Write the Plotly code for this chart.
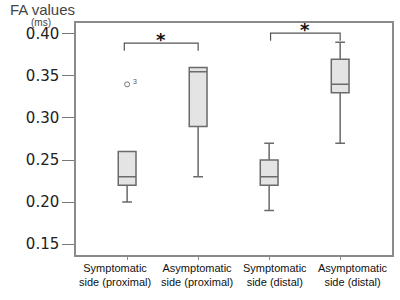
import plotly.graph_objects as go

categories = ["Symptomatic<br>side (proximal)", "Asymptomatic<br>side (proximal)",
              "Symptomatic<br>side (distal)", "Asymptomatic<br>side (distal)"]
label_pos = [-0.17, 0.99, 2.08, 3.18]
lower = [0.20, 0.23, 0.19, 0.27]
q1 = [0.22, 0.29, 0.22, 0.33]
median = [0.23, 0.355, 0.23, 0.34]
q3 = [0.26, 0.36, 0.25, 0.37]
upper = [0.26, 0.36, 0.27, 0.39]
outlier_x = [0]
outlier_y = [0.34]
outlier_label = ["3"]
y_ticks = [0.15, 0.20, 0.25, 0.30, 0.35, 0.40]

fig = go.Figure()
for i in range(len(categories)):
    fig.add_trace(go.Box(
        x=[i], q1=[q1[i]], median=[median[i]], q3=[q3[i]],
        lowerfence=[lower[i]], upperfence=[upper[i]],
        width=0.25, whiskerwidth=0.55,
        fillcolor="#e4e4e4", line=dict(color="#6a6a6a", width=1.5),
        showlegend=False, hoverinfo="skip", boxpoints=False,
    ))

fig.add_trace(go.Scatter(
    x=outlier_x, y=outlier_y, mode="markers",
    marker=dict(symbol="circle-open", size=5, color="#777", line=dict(width=1)),
    showlegend=False, hoverinfo="skip",
))
for xv, yv, t in zip(outlier_x, outlier_y, outlier_label):
    fig.add_annotation(x=xv, y=yv, text=t, showarrow=False, xshift=8, yshift=3,
                       font=dict(size=7, color="#555", family="Liberation Sans"))

# category labels (offset from ticks as in the original)
for xv, t in zip(label_pos, categories):
    fig.add_annotation(x=xv, xref="x", y=0, yref="paper", yshift=-5, yanchor="top",
                       text=t, showarrow=False,
                       font=dict(size=11, color="#111", family="Liberation Sans"))

# significance brackets
brackets = [(-0.04, 1.0, 0.389, 0.380), (2.02, 3.0, 0.401, 0.392)]
for x0, x1, ytop, ybot in brackets:
    fig.add_trace(go.Scatter(
        x=[x0, x0, x1, x1], y=[ybot, ytop, ytop, ybot], mode="lines",
        line=dict(color="#555", width=1.2), showlegend=False, hoverinfo="skip",
    ))
    fig.add_annotation(x=(x0 + x1) / 2, y=ytop, text="<b>*</b>", showarrow=False,
                       yshift=4, font=dict(size=18, color="#111", family="DejaVu Sans"))

fig.add_annotation(xref="paper", yref="paper", x=-0.215, y=1.0, yshift=3,
                   text="FA values", showarrow=False, xanchor="left", yanchor="bottom",
                   font=dict(size=15, color="#444", family="Liberation Sans"))
fig.add_annotation(xref="paper", yref="paper", x=-0.148, y=1.0, yshift=-7,
                   text="(ms)", showarrow=False, xanchor="left", yanchor="bottom",
                   font=dict(size=10, color="#444", family="Liberation Sans"))

fig.update_layout(
    width=400, height=300,
    margin=dict(l=76, r=8, t=23, b=45),
    plot_bgcolor="white", paper_bgcolor="white",
    xaxis=dict(range=[-0.72, 3.73], tickvals=list(range(len(categories))),
               showticklabels=False,
               showgrid=False, zeroline=False, showline=True, linecolor="#8a8a8a", linewidth=1.5,
               mirror=True, ticks="outside", ticklen=3, tickcolor="#8a8a8a",
               automargin=False),
    yaxis=dict(range=[0.137, 0.413], tickvals=y_ticks, ticktext=[f"{v:.2f}" for v in y_ticks],
               showgrid=False, zeroline=False, showline=True, linecolor="#8a8a8a", linewidth=1.5,
               mirror=True, ticks="outside", ticklen=12, tickcolor="#777", automargin=False,
               tickfont=dict(size=15, color="#222", family="DejaVu Sans")),
)

fig.write_html("out.html", config={"displayModeBar": False},
               post_script="document.body.style.margin='0';")
